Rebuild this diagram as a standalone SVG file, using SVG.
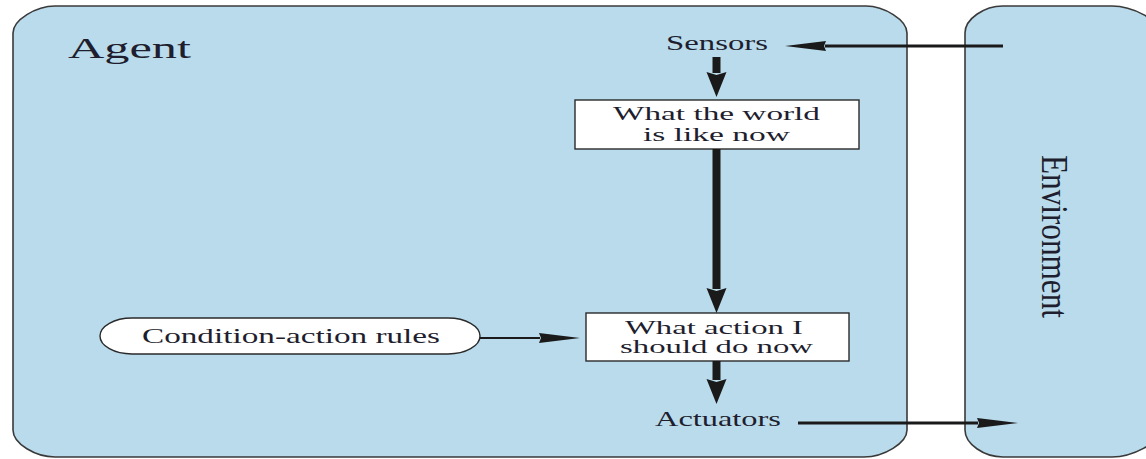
<svg xmlns="http://www.w3.org/2000/svg" width="1146" height="459" viewBox="0 0 1146 459">
<style>
.region{fill:#b9dbec;stroke:#3a3a3a;stroke-width:1.6}
.box{fill:#ffffff;stroke:#2a2a2a;stroke-width:1.4}
.t{font-family:"Liberation Serif","Times New Roman",serif;fill:#1e1e2e;font-size:21px}
.bt{font-size:19px}
.thick{stroke:#1a1a1a;stroke-width:8;fill:none}
.mid{stroke:#1a1a1a;stroke-width:3;fill:none}
.thin{stroke:#1a1a1a;stroke-width:2;fill:none}
</style>
<defs>
<marker id="vhead" markerUnits="userSpaceOnUse" markerWidth="26" markerHeight="22" refX="1" refY="11" orient="auto">
<path d="M0,1 L25,11 L0,21 L3,11 Z" fill="#1a1a1a"/>
</marker>
<marker id="hhead" markerUnits="userSpaceOnUse" markerWidth="42" markerHeight="12" refX="1" refY="6" orient="auto">
<path d="M0,1 L41,6 L0,11 L2,6 Z" fill="#1a1a1a"/>
</marker>
</defs>
<rect width="1146" height="459" fill="#ffffff"/>
<g id="agent">
<path class="region" d="M13,33 C13,20 36,6 55,6 L866,6 C884,6 907,20 907,33 L907,430 C907,443 884,457 864,457 L55,457 C36,457 13,444 13,430 Z"/>
<text class="t" x="68" y="58" style="font-size:30px" textLength="123" lengthAdjust="spacingAndGlyphs">Agent</text>
</g>
<g id="environment">
<path class="region" d="M965,33 C965,19 984,6 1003,6 L1112,6 C1132,6 1160,20 1160,33 L1160,430 C1160,443 1132,457 1112,457 L1003,457 C984,457 965,444 965,430 Z"/>
<text class="t" transform="translate(1042,155) scale(1.25,1) rotate(90)" x="0" y="0" style="font-size:31px" textLength="163" lengthAdjust="spacingAndGlyphs">Environment</text>
</g>
<g id="sensors">
<text class="t" x="666" y="50" style="font-size:22px" textLength="102" lengthAdjust="spacingAndGlyphs">Sensors</text>
</g>
<g id="world">
<rect class="box" x="575" y="100" width="284" height="49"/>
<text class="t bt" x="613" y="120" textLength="207" lengthAdjust="spacingAndGlyphs">What the world</text>
<text class="t bt" x="643" y="141" textLength="147" lengthAdjust="spacingAndGlyphs">is like now</text>
</g>
<g id="action">
<rect class="box" x="586" y="313" width="263" height="48"/>
<text class="t bt" x="625" y="334" textLength="178" lengthAdjust="spacingAndGlyphs">What action I</text>
<text class="t bt" x="620" y="353" textLength="193" lengthAdjust="spacingAndGlyphs">should do now</text>
</g>
<g id="rules">
<rect class="box" x="100" y="318" width="380" height="36" rx="32" ry="18"/>
<text class="t" x="142" y="343" textLength="298" lengthAdjust="spacingAndGlyphs">Condition-action rules</text>
</g>
<g id="actuators">
<text class="t" x="655" y="426" textLength="126" lengthAdjust="spacingAndGlyphs">Actuators</text>
</g>
<g id="connectors">
<line class="mid" x1="1003" y1="46" x2="825" y2="46" marker-end="url(#hhead)"/>
<line class="thick" x1="716.5" y1="57" x2="716.5" y2="73" marker-end="url(#vhead)"/>
<line class="thick" x1="716.5" y1="149" x2="716.5" y2="289" marker-end="url(#vhead)"/>
<line class="thin" x1="480" y1="338" x2="540" y2="338" marker-end="url(#hhead)"/>
<line class="thick" x1="716.5" y1="361" x2="716.5" y2="380" marker-end="url(#vhead)"/>
<line class="mid" x1="798" y1="423" x2="978" y2="423" marker-end="url(#hhead)"/>
</g>
</svg>
